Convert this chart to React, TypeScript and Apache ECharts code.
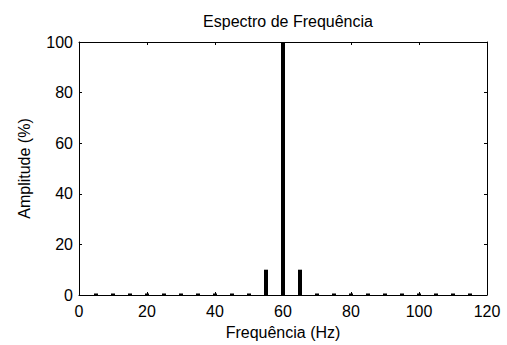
import React, { useEffect, useRef } from "react";
import * as echarts from "echarts";

const frequencies = [5, 10, 15, 20, 25, 30, 35, 40, 45, 50, 55, 60, 65, 70, 75, 80, 85, 90, 95, 100, 105, 110, 115];
const amplitudes = [0.6, 0.6, 0.6, 0.6, 0.6, 0.6, 0.6, 0.6, 0.6, 0.6, 10, 100, 10, 0.6, 0.6, 0.6, 0.6, 0.6, 0.6, 0.6, 0.6, 0.6, 0.6];
const title = "Espectro de Frequência";
const xLabel = "Frequência (Hz)";
const yLabel = "Amplitude (%)";

export default function App() {
  const ref = useRef<HTMLDivElement>(null);
  useEffect(() => {
    const chart = echarts.init(ref.current!, null, { renderer: "svg" });
    const font = "Liberation Sans";
    const axisCommon = {
      axisLine: { show: true, onZero: false, lineStyle: { color: "#000", width: 1 } },
      axisTick: { show: true, inside: true, length: 3, lineStyle: { color: "#000" } },
      splitLine: { show: false },
    };
    chart.setOption({
      animation: false,
      backgroundColor: "#fff",
      title: {
        text: title,
        left: 283,
        textAlign: "center",
        top: 8,
        textStyle: { fontFamily: font, fontSize: 16, fontWeight: "normal", color: "#000" },
      },
      grid: { left: 79, right: 20, top: 42, bottom: 49 },
      xAxis: [
        {
          ...axisCommon,
          type: "value",
          min: 0,
          max: 120,
          interval: 20,
          position: "bottom",
          name: xLabel,
          nameLocation: "middle",
          nameGap: 29,
          nameTextStyle: { fontFamily: font, fontSize: 16, color: "#000" },
          axisLabel: { fontFamily: font, fontSize: 16, color: "#000", margin: 8 },
        },
        {
          ...axisCommon,
          type: "value",
          min: 0,
          max: 120,
          interval: 20,
          position: "top",
          axisLabel: { show: false },
        },
      ],
      yAxis: [
        {
          ...axisCommon,
          type: "value",
          min: 0,
          max: 100,
          interval: 20,
          position: "left",
          name: yLabel,
          nameLocation: "middle",
          nameGap: 47,
          nameTextStyle: { fontFamily: font, fontSize: 16, color: "#000" },
          axisLabel: { fontFamily: font, fontSize: 16, color: "#000", margin: 6 },
        },
        {
          ...axisCommon,
          type: "value",
          min: 0,
          max: 100,
          interval: 20,
          position: "right",
          axisLabel: { show: false },
        },
      ],
      series: [
        {
          type: "bar",
          xAxisIndex: 0,
          yAxisIndex: 0,
          barWidth: 4,
          itemStyle: { color: "#000" },
          data: frequencies.map((f, i) => [f, amplitudes[i]]),
        },
      ],
    });
    return () => chart.dispose();
  }, []);
  return <div ref={ref} style={{ width: 507, height: 345, position: "absolute", left: 0, top: 0 }} />;
}
